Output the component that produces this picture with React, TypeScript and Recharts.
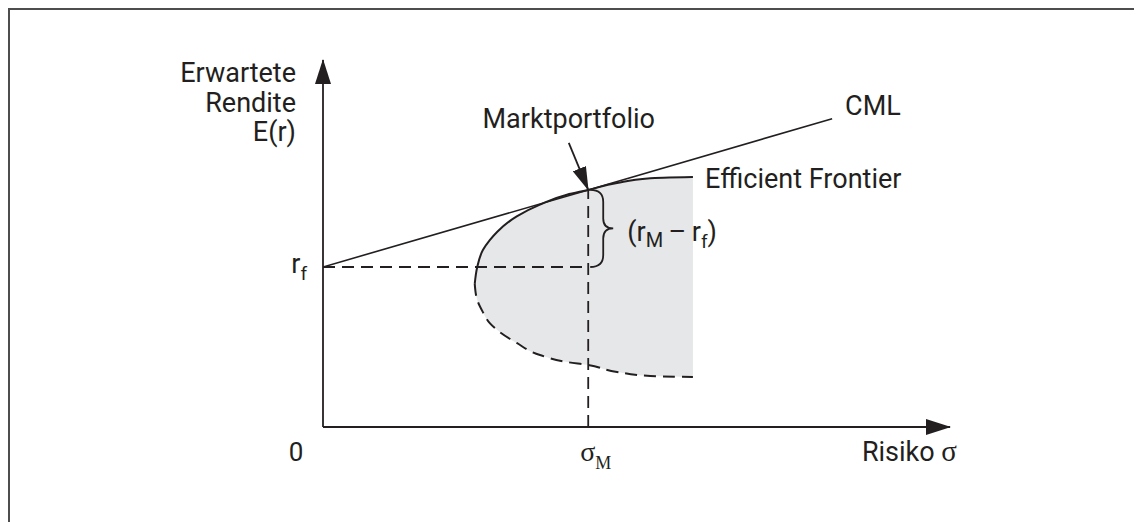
import React from 'react';
import { ComposedChart, Area, Line, XAxis, YAxis, ReferenceLine, ReferenceDot } from 'recharts';

// Efficient frontier (sigma, upper return, lower return)
const frontierSigma = [24.2, 24.6, 25.5, 26.6, 27.8, 30.9, 34.6, 38.9, 42.3, 46.9, 52.2, 59.0];
const frontierUpper = [39.0, 43.6, 48.2, 50.9, 53.2, 57.4, 60.6, 63.3, 64.6, 66.5, 67.8, 68.1];
const frontierLower = [39.0, 34.6, 31.3, 28.3, 26.4, 22.9, 19.6, 17.7, 16.9, 15.0, 13.9, 13.6];

// Capital market line
const cmlSigma = [0, 42.3, 81.2];
const cmlReturn = [43.6, 64.6, 84.0];

const riskFreeRate = 43.6;
const marketSigma = 42.3;
const marketReturn = 64.6;
const arrowStartSigma = 39.2;
const arrowStartReturn = 77.4;
const axisMax = 100;

const xTicks = [0, marketSigma];
const yTicks = [riskFreeRate];

const frontierData = frontierSigma.map((x, i) => ({
  x,
  hi: frontierUpper[i],
  lo: frontierLower[i],
  band: [frontierLower[i], frontierUpper[i]],
}));
const cmlData = cmlSigma.map((x, i) => ({ x, y: cmlReturn[i] }));

const INK = '#231f20';
const SANS = 'Roboto, "Liberation Sans", Arial, sans-serif';
const SERIF = '"Liberation Serif", "DejaVu Serif", serif';
const FS = 27;

const XTick = (props: any) => {
  const { x, y, payload } = props;
  if (payload.value === 0) {
    return (
      <text x={x - 27} y={y + 34} textAnchor="middle" fontFamily={SANS} fontSize={26} fill={INK}>
        0
      </text>
    );
  }
  return (
    <text x={x - 8} y={y + 34} fontFamily={SERIF} fontSize={28} fill={INK}>
      σ<tspan dy={8} fontSize={18}>M</tspan>
    </text>
  );
};

const YTick = (props: any) => {
  const { x, y } = props;
  return (
    <text x={x - 16} y={y + 6} textAnchor="end" fontFamily={SANS} fontSize={FS} fill={INK}>
      r<tspan dy={7} fontSize={19}>f</tspan>
    </text>
  );
};

const arrowLine = (marker: string, width: number) => (p: any) => (
  <line x1={p.x1} y1={p.y1} x2={p.x2} y2={p.y2} stroke={INK} strokeWidth={width} markerEnd={`url(#${marker})`} />
);

const braceShape = (p: any) => {
  const x = p.x1;
  const yTop = Math.min(p.y1, p.y2);
  const yBot = Math.max(p.y1, p.y2);
  const ym = (yTop + yBot) / 2;
  const bx = x + 15;
  const d = `M${x + 2},${yTop} Q${bx},${yTop} ${bx},${yTop + 12} L${bx},${ym - 10} Q${bx},${ym} ${x + 25},${ym} Q${bx},${ym} ${bx},${ym + 10} L${bx},${yBot - 12} Q${bx},${yBot} ${x + 2},${yBot}`;
  return (
    <g>
      <path d={d} fill="none" stroke={INK} strokeWidth={1.8} />
      <text x={x + 39} y={ym + 13} fontFamily={SANS} fontSize={FS} fill={INK}>
        (r<tspan dy={6} fontSize={20}>M</tspan>
        <tspan dy={-6}>{'\u2009–\u2009'}r</tspan>
        <tspan dy={7} fontSize={19}>f</tspan>
        <tspan dy={-7}>)</tspan>
      </text>
    </g>
  );
};

const textDot = (render: (cx: number, cy: number) => React.ReactElement) => (p: any) => render(p.cx, p.cy);

export default function App() {
  return (
    <div style={{ width: 1129, height: 520, border: '2px solid #4d4d4d', background: '#fff' }}>
      <ComposedChart
        width={1129}
        height={505}
        data={frontierData}
        margin={{ top: 50, right: 189, bottom: 48, left: 253 }}
      >
        <defs>
          <marker id="axisHead" viewBox="0 0 25 16" refX={24} refY={8} markerWidth={25} markerHeight={16} markerUnits="userSpaceOnUse" orient="auto">
            <path d="M0,0 L25,8 L0,16 z" fill={INK} />
          </marker>
          <marker id="smallHead" viewBox="0 0 24 14" refX={23} refY={7} markerWidth={24} markerHeight={14} markerUnits="userSpaceOnUse" orient="auto">
            <path d="M0,0 L24,7 L0,14 z" fill={INK} />
          </marker>
        </defs>
        <XAxis
          dataKey="x"
          type="number"
          domain={[0, axisMax]}
          ticks={xTicks}
          interval={0}
          allowDataOverflow
          axisLine={false}
          tickLine={false}
          tickSize={0}
          tickMargin={0}
          height={40}
          tick={<XTick />}
        />
        <YAxis
          type="number"
          domain={[0, axisMax]}
          ticks={yTicks}
          interval={0}
          allowDataOverflow
          axisLine={false}
          tickLine={false}
          tickSize={0}
          tickMargin={0}
          width={60}
          tick={<YTick />}
        />
        <Area
          dataKey="band"
          type="monotoneY"
          fill="#e6e7e8"
          fillOpacity={1}
          stroke="none"
          isAnimationActive={false}
          activeDot={false}
        />
        <ReferenceLine
          segment={[{ x: 0, y: riskFreeRate }, { x: marketSigma, y: riskFreeRate }]}
          stroke={INK}
          strokeWidth={1.8}
          strokeDasharray="12 7"
        />
        <ReferenceLine
          segment={[{ x: marketSigma, y: 0 }, { x: marketSigma, y: marketReturn }]}
          stroke={INK}
          strokeWidth={1.8}
          strokeDasharray="12 7"
        />
        <Line
          dataKey="hi"
          type="monotoneY"
          stroke={INK}
          strokeWidth={2}
          dot={false}
          activeDot={false}
          isAnimationActive={false}
        />
        <Line
          dataKey="lo"
          type="monotoneY"
          stroke={INK}
          strokeWidth={2}
          strokeDasharray="12 7"
          dot={false}
          activeDot={false}
          isAnimationActive={false}
        />
        <Line
          data={cmlData}
          dataKey="y"
          type="linear"
          stroke={INK}
          strokeWidth={1.6}
          dot={false}
          activeDot={false}
          isAnimationActive={false}
        />
        <ReferenceLine
          segment={[{ x: 0, y: 0 }, { x: axisMax, y: 0 }]}
          shape={arrowLine('axisHead', 1.8)}
        />
        <ReferenceLine
          segment={[{ x: 0, y: 0 }, { x: 0, y: axisMax }]}
          shape={arrowLine('axisHead', 1.8)}
        />
        <ReferenceLine
          segment={[{ x: arrowStartSigma, y: arrowStartReturn }, { x: marketSigma, y: marketReturn }]}
          shape={arrowLine('smallHead', 1.8)}
        />
        <ReferenceLine
          segment={[{ x: marketSigma, y: marketReturn }, { x: marketSigma, y: riskFreeRate }]}
          shape={braceShape}
        />
        <ReferenceDot
          x={0}
          y={axisMax}
          r={0}
          shape={textDot((cx, cy) => (
            <text x={cx - 27} y={cy} textAnchor="end" fontFamily={SANS} fontSize={FS} fill={INK}>
              <tspan x={cx - 27} dy={22}>Erwartete</tspan>
              <tspan x={cx - 27} dy={30}>Rendite</tspan>
              <tspan x={cx - 27} dy={29}>E(r)</tspan>
            </text>
          ))}
        />
        <ReferenceDot
          x={axisMax}
          y={0}
          r={0}
          shape={textDot((cx, cy) => (
            <text x={cx + 7} y={cy + 34} textAnchor="end" fontFamily={SANS} fontSize={FS} fill={INK}>
              Risiko <tspan fontFamily={SERIF} fontSize={29}>σ</tspan>
            </text>
          ))}
        />
        <ReferenceDot
          x={arrowStartSigma}
          y={arrowStartReturn}
          r={0}
          shape={textDot((cx, cy) => (
            <text x={cx} y={cy - 15} textAnchor="middle" fontFamily={SANS} fontSize={FS} fill={INK}>
              Marktportfolio
            </text>
          ))}
        />
        <ReferenceDot
          x={cmlSigma[cmlSigma.length - 1]}
          y={cmlReturn[cmlReturn.length - 1]}
          r={0}
          shape={textDot((cx, cy) => (
            <text x={cx + 13} y={cy - 4} fontFamily={SANS} fontSize={FS} fill={INK}>
              CML
            </text>
          ))}
        />
        <ReferenceDot
          x={frontierSigma[frontierSigma.length - 1]}
          y={frontierUpper[frontierUpper.length - 1]}
          r={0}
          shape={textDot((cx, cy) => (
            <text x={cx + 12} y={cy + 11} fontFamily={SANS} fontSize={FS} fill={INK}>
              Efficient Frontier
            </text>
          ))}
        />
      </ComposedChart>
    </div>
  );
}
